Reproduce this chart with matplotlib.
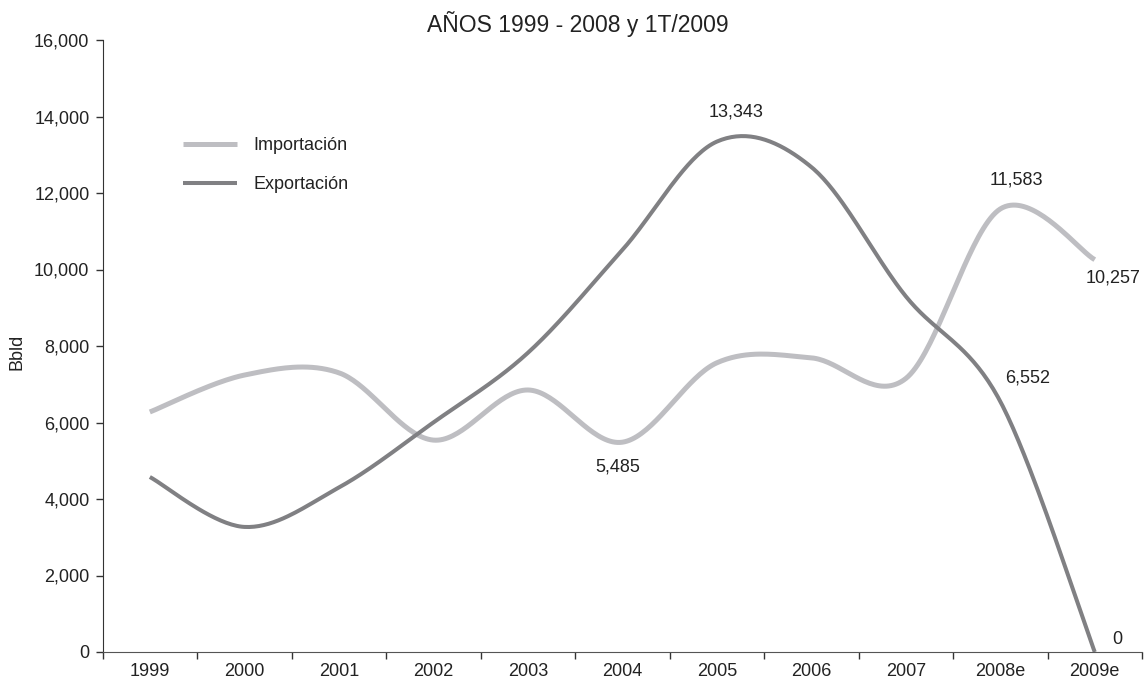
import matplotlib
matplotlib.use("Agg")
import matplotlib.pyplot as plt
import numpy as np
from matplotlib.ticker import FuncFormatter

plt.rcParams['font.family'] = ['Liberation Sans', 'DejaVu Sans']

years = ["1999", "2000", "2001", "2002", "2003", "2004", "2005", "2006", "2007", "2008e", "2009e"]
importacion = [6275, 7240, 7300, 5540, 6850, 5485, 7560, 7690, 7150, 11583, 10257]
exportacion = [4575, 3270, 4300, 6000, 7820, 10510, 13343, 12680, 9300, 6552, 0]

c_imp = "#bebec2"
c_exp = "#808083"
txt = "#222222"


def smooth(y, n=40):
    # bezier smoothing like the spreadsheet "smoothed line" option
    y = np.asarray(y, dtype=float)
    x = np.arange(len(y), dtype=float)
    pts = np.column_stack([x, y])
    out = []
    for i in range(len(pts) - 1):
        p0 = pts[max(i - 1, 0)]
        p1 = pts[i]
        p2 = pts[i + 1]
        p3 = pts[min(i + 2, len(pts) - 1)]
        c1 = p1 + (p2 - p0) / 6
        c2 = p2 - (p3 - p1) / 6
        t = np.linspace(0, 1, n)[:, None]
        seg = ((1 - t) ** 3) * p1 + 3 * ((1 - t) ** 2) * t * c1 + 3 * (1 - t) * t ** 2 * c2 + t ** 3 * p2
        out.append(seg if i == 0 else seg[1:])
    seg = np.vstack(out)
    return seg[:, 0], seg[:, 1]


fig = plt.figure(figsize=(11.45, 6.9), dpi=100)
ax = fig.add_axes([102.6 / 1145, 38 / 690, (1142 - 102.6) / 1145, (652 - 40) / 690])

xs, ys = smooth(importacion)
ax.plot(xs, ys, color=c_imp, lw=3.6, label="Importación", solid_capstyle="butt")
xs, ys = smooth(exportacion)
ax.plot(xs, ys, color=c_exp, lw=2.9, label="Exportación", solid_capstyle="butt")

ax.set_xlim(-0.5, len(years) - 0.5)
ax.set_ylim(0, 16000)
ax.set_yticks(np.arange(0, 16001, 2000))
ax.yaxis.set_major_formatter(FuncFormatter(lambda v, p: f"{int(v):,}"))
ax.set_xticks(np.arange(len(years)))
ax.set_xticklabels(years)
ax.set_xticks(np.arange(-0.5, len(years)), minor=True)
ax.tick_params(axis="x", which="major", length=0, pad=8, labelsize=13, labelcolor=txt)
ax.tick_params(axis="x", which="minor", length=5, width=1, color="#333333")
ax.tick_params(axis="y", length=5, width=1, color="#333333", pad=4.5, labelsize=13, labelcolor=txt)

for s in ["top", "right"]:
    ax.spines[s].set_visible(False)
ax.spines["left"].set_color("#333333")
ax.spines["bottom"].set_color("#555555")

fig.text(17 / 1145, 1 - 352 / 690, "Bbld", rotation=90, ha="center", va="center",
         fontsize=13, color=txt)
fig.text(578 / 1145, 1 - 24 / 690, "AÑOS 1999 - 2008 y 1T/2009", ha="center", va="center",
         fontsize=16.5, color=txt)

# data labels
def lab(i, v, dx, dy, ha="center"):
    ax.annotate(f"{v:,}", (i, v), xytext=(dx, dy), textcoords="offset points",
                ha=ha, va="center", fontsize=13, color=txt)

lab(6, exportacion[6], 14, 21)
lab(9, importacion[9], 11.5, 21)
lab(10, importacion[10], 13, -13)
lab(9, exportacion[9], 20, 16.5)
lab(5, importacion[5], -3.6, -18)
lab(10, exportacion[10], 16, 9)

ax.legend(loc="upper left", bbox_to_anchor=(183 / 1145, 1 - 137 / 690), bbox_transform=fig.transFigure,
          frameon=False, fontsize=13, handlelength=3, handletextpad=0.9, labelspacing=1.22,
          borderpad=0, borderaxespad=0, labelcolor=txt)

fig.savefig("out.png", dpi=100)
